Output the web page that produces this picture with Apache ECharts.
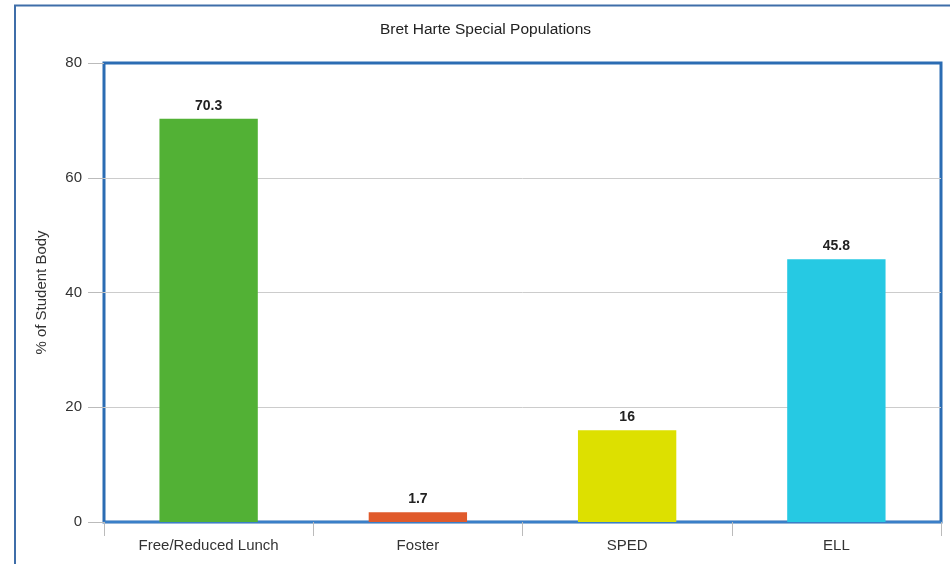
<!DOCTYPE html>
<html>
<head>
<meta charset="utf-8">
<script src="https://cdn.jsdelivr.net/npm/echarts@6/dist/echarts.min.js"></script>
<style>
html,body{margin:0;padding:0;background:#fff;}
#chart{width:950px;height:564px;}
</style>
</head>
<body>
<div id="chart"></div>
<script>
var categories = ['Free/Reduced Lunch', 'Foster', 'SPED', 'ELL'];
var values = [70.3, 1.7, 16, 45.8];
var barColors = ['#52b135', '#e05a2b', '#dde000', '#26c9e3'];
var yTicks = [0, 20, 40, 60, 80];

var FONT = '"Liberation Sans", Arial, sans-serif';
var chart = echarts.init(document.getElementById('chart'), null, {renderer: 'canvas'});

var option = {
  backgroundColor: '#ffffff',
  animation: false,
  title: {
    text: 'Bret Harte Special Populations',
    left: 375,
    top: 17,
    textStyle: {fontFamily: FONT, fontSize: 15.5, fontWeight: 'normal', color: '#222'}
  },
  graphic: [{
    type: 'rect',
    shape: {x: 15, y: 5.5, width: 1000, height: 1000},
    style: {fill: 'none', stroke: '#3f6ea9', lineWidth: 2},
    silent: true,
    z: -1
  }],
  grid: {
    left: 104, top: 63, right: 9, bottom: 42,
    show: true,
    borderColor: '#2b6cb3',
    borderWidth: 3,
    containLabel: false
  },
  xAxis: {
    type: 'category',
    data: categories,
    axisLine: {show: true, lineStyle: {color: '#3a7fc8', width: 2}},
    axisTick: {show: true, alignWithLabel: false, length: 14, lineStyle: {color: '#bbbbbb'}},
    axisLabel: {fontFamily: FONT, fontSize: 15, color: '#333', margin: 16, interval: 0},
    splitLine: {show: false}
  },
  yAxis: {
    type: 'value',
    min: yTicks[0],
    max: yTicks[yTicks.length - 1],
    interval: 20,
    name: '% of Student Body',
    nameLocation: 'middle',
    nameGap: 55,
    nameTextStyle: {fontFamily: FONT, fontSize: 15, color: '#333'},
    axisLine: {show: false},
    axisTick: {show: true, length: 16, lineStyle: {color: '#bbbbbb'}},
    axisLabel: {fontFamily: FONT, fontSize: 15, color: '#333', margin: 22},
    splitLine: {show: true, showMinLine: false, showMaxLine: false, lineStyle: {color: '#cccccc', width: 1}}
  },
  series: [{
    type: 'bar',
    barWidth: '47%',
    data: values.map(function (v, i) {
      return {value: v, itemStyle: {color: barColors[i]}};
    }),
    label: {
      show: true,
      position: 'top',
      distance: 6,
      fontFamily: FONT,
      fontSize: 14,
      fontWeight: 'bold',
      color: '#222'
    }
  }]
};
chart.setOption(option);
</script>
</body>
</html>
